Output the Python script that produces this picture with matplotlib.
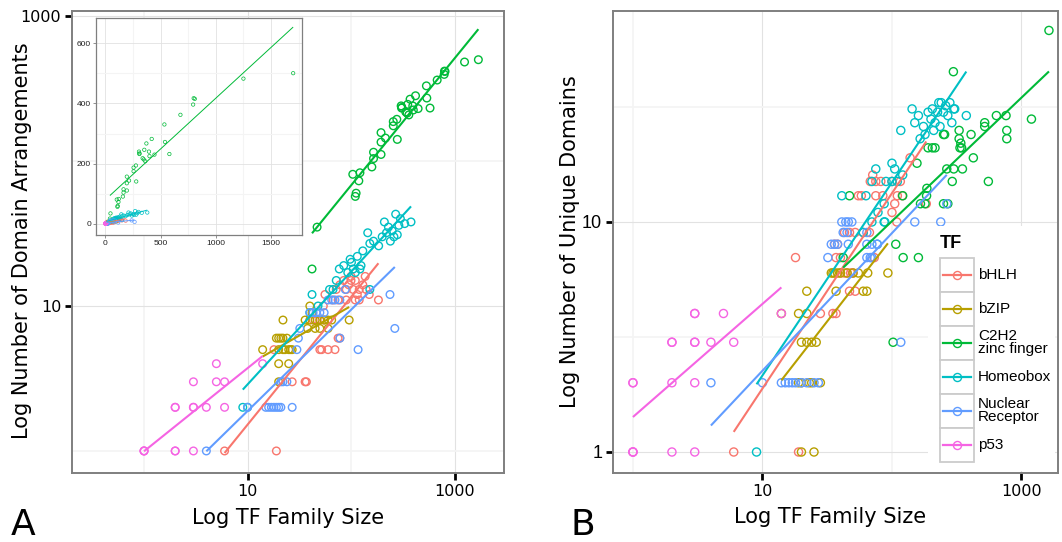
import numpy as np
import matplotlib
matplotlib.use("Agg")
import matplotlib.pyplot as plt
from matplotlib.patches import Rectangle
from matplotlib.ticker import NullFormatter

# ---- data: (family size, count) ----
families = ["bHLH", "bZIP", "C2H2\nzinc finger", "Homeobox", "Nuclear\nReceptor", "p53"]
colors = ["#F8766D", "#B79F00", "#00BA38", "#00BFC4", "#619CFF", "#F564E3"]

# panel A: number of domain arrangements
a_bhlh_x = [6, 19, 18, 27, 36, 37, 43, 47, 50, 50, 60, 70, 52, 75, 78, 55, 54, 56, 67, 75,
            90, 110, 120, 184, 72, 78, 85, 95, 100, 110, 120, 130, 137, 100, 115, 105, 90, 140, 150]
a_bhlh_y = [1, 1, 5, 3, 3, 3, 8, 8, 8, 5, 5, 5, 5, 6, 6, 8, 10, 12, 11, 11,
            11, 11, 11, 11, 13, 14, 15, 14, 16, 15, 13, 14, 16, 15, 12, 13, 13, 13, 12]
a_bzip_x = [14, 19, 20, 21, 22, 20, 22, 23, 25, 26, 27, 20, 25, 20, 22,
            36, 40, 45, 50, 55, 60, 65, 96, 40, 42, 38, 45, 50, 60, 24]
a_bzip_y = [5, 6, 6, 6, 6, 5, 5, 5, 5, 5, 5, 4, 4, 3, 8,
            8, 8, 8, 8, 8, 8, 8, 8, 10, 9, 7, 7, 7, 7, 6]
a_c2h2_x = [1700, 1250, 800, 810, 795, 680, 535, 540, 580, 420, 445, 372, 353, 305, 308,
            338, 348, 362, 277, 256, 256, 280, 195, 195, 215, 165, 165, 195, 159, 122,
            104, 119, 112, 110, 47, 42, 310, 400, 395]
a_c2h2_y = [500, 482, 417, 415, 396, 362, 330, 272, 232, 282, 230, 267, 246, 240, 232,
            218, 214, 208, 194, 187, 175, 141, 157, 135, 144, 115, 104, 111, 91, 83,
            81, 73, 60, 57, 35, 18, 234, 225, 240]
a_hbox_x = [9, 10, 40, 48, 42, 67, 62, 72, 77, 93, 101, 122, 152, 145, 152, 165, 210, 270, 380,
            230, 250, 260, 280, 240, 220, 300, 330, 290, 200, 185, 105, 115, 85, 98, 130, 110, 125]
a_hbox_y = [2, 2, 9, 10, 12, 13, 13, 15, 18, 17, 20, 18, 13, 32, 27, 28, 38, 43, 38,
            35, 33, 30, 31, 28, 32, 40, 37, 36, 30, 26, 18, 22, 19, 21, 24, 17, 19]
a_nr_x = [4, 10, 15, 16, 17, 18, 19, 20, 21, 27, 21, 22, 24, 30, 32, 31, 40, 43, 46, 50,
          55, 60, 65, 70, 78, 78, 88, 117, 238, 265]
a_nr_y = [1, 2, 2, 2, 2, 2, 2, 2, 2, 2, 3, 3, 3, 5, 7, 6, 9, 9, 9, 9,
          9, 11, 11, 11, 11, 6, 13, 5, 12, 7]
a_p53_x = [1, 1, 1, 2, 2, 3, 2, 2, 3, 3, 4, 6, 3, 5, 6, 5, 14]
a_p53_y = [1, 1, 1, 1, 1, 1, 2, 2, 2, 2, 2, 2, 3, 3, 3, 4, 4]

# panel B: number of unique domains
b_bhlh_x = [6, 19, 18, 28, 35, 37, 47, 52, 40, 43, 45, 48, 50, 37, 40, 73, 36, 38, 43, 47,
            52, 60, 67, 109, 55, 58, 75, 85, 110, 120, 68, 75, 82, 100, 116, 71, 138, 100, 105,
            184]
b_bhlh_y = [1, 1, 7, 4, 4, 4, 5, 5, 6, 6, 6, 6, 6, 7, 7, 7, 8, 8, 9, 9,
            9, 9, 9, 10, 13, 13, 13, 13, 13, 13, 15, 15, 15, 15, 15, 16, 19, 11, 12,
            12]
b_bzip_x = [20, 25, 19, 20, 23, 24, 28, 20, 22, 24, 26, 19, 22, 22, 37, 60, 64,
            35, 38, 40, 45, 50, 55, 65, 93, 34, 36, 14]
b_bzip_y = [1, 1, 2, 2, 2, 2, 2, 3, 3, 3, 3, 4, 4, 5, 5, 5, 5,
            6, 6, 6, 6, 6, 6, 6, 6, 6, 6, 4]
b_c2h2_x = [1630, 298, 1194, 640, 760, 520, 520, 770, 770, 408, 330, 340, 335, 330, 345,
            425, 265, 300, 350, 292, 555, 250, 270, 250, 255, 205, 215, 190, 156, 186,
            166, 180, 185, 107, 122, 160, 47, 121, 102, 42]
b_c2h2_y = [68, 45, 28, 29, 29, 27, 26, 25, 23, 24, 25, 22, 21, 23, 21,
            19, 17, 17, 17, 15, 15, 12, 12, 24, 24, 21, 21, 21, 18, 14,
            12, 12, 13, 8, 7, 7, 13, 13, 3, 7]
b_hbox_x = [9, 143, 205, 117, 150, 160, 175, 190, 200, 215, 225, 180, 165, 230, 240, 260,
            280, 300, 250, 270, 290, 375, 305, 210, 235, 100, 75, 105, 70, 90, 100, 110,
            121, 41, 63, 87, 78, 70, 87, 88, 60, 77]
b_hbox_y = [1, 31, 31, 25, 27, 29, 26, 30, 28, 27, 30, 24, 23, 33, 33, 32,
            33, 31, 30, 29, 27, 29, 31, 25, 26, 18, 17, 17, 15, 15, 15, 15,
            16, 13, 13, 12, 11, 10, 10, 10, 9, 8]
b_nr_x = [4, 10, 14, 15, 16, 17, 18, 20, 22, 25, 27, 117, 32, 64, 68, 70, 34, 36, 38, 46,
          64, 70, 77, 41, 44, 46, 49, 150, 42, 45, 64, 238, 265]
b_nr_y = [2, 2, 2, 2, 2, 2, 2, 2, 2, 2, 2, 3, 7, 7, 7, 7, 8, 8, 8, 8,
          8, 8, 8, 10, 10, 10, 10, 10, 9, 9, 9, 10, 12]
b_p53_x = [1, 1, 1, 2, 3, 1, 1, 2, 3, 2, 2, 3, 3, 4, 6, 3, 3, 5, 14]
b_p53_y = [1, 1, 1, 1, 1, 2, 2, 2, 2, 3, 3, 3, 3, 3, 3, 4, 4, 4, 4]

data_a = [(a_bhlh_x, a_bhlh_y), (a_bzip_x, a_bzip_y), (a_c2h2_x, a_c2h2_y),
          (a_hbox_x, a_hbox_y), (a_nr_x, a_nr_y), (a_p53_x, a_p53_y)]
data_b = [(b_bhlh_x, b_bhlh_y), (b_bzip_x, b_bzip_y), (b_c2h2_x, b_c2h2_y),
          (b_hbox_x, b_hbox_y), (b_nr_x, b_nr_y), (b_p53_x, b_p53_y)]

W, H = 1062, 542
plt.rcParams["font.family"] = ["DejaVu Sans"]
fig = plt.figure(figsize=(W / 100, H / 100), dpi=100)


def px_box(left, top, right, bottom):
    # figure rectangle from pixel edges (origin top-left)
    return [left / W, 1 - bottom / H, (right - left) / W, (bottom - top) / H]


def fit_line(ax, x, y, color, lw, log=True):
    # least squares line, like geom_smooth(method="lm", se=FALSE)
    x = np.asarray(x, float)
    y = np.asarray(y, float)
    if log:
        k, b = np.polyfit(np.log10(x), np.log10(y), 1)
        xs = np.logspace(np.log10(x.min()), np.log10(x.max()), 50)
        ys = 10 ** (b + k * np.log10(xs))
    else:
        k, b = np.polyfit(x, y, 1)
        xs = np.linspace(x.min(), x.max(), 50)
        ys = b + k * xs
    ax.plot(xs, ys, color=color, lw=lw, solid_capstyle="butt", zorder=3)


def style_log_axes(ax, xlim, ylim, xt, yt, xminor, yminor, ylab_font):
    ax.set_xscale("log")
    ax.set_yscale("log")
    ax.set_xlim(*xlim)
    ax.set_ylim(*ylim)
    ax.set_xticks(xt)
    ax.set_xticklabels([str(v) for v in xt])
    ax.set_yticks(yt)
    ax.set_yticklabels([str(v) for v in yt], family=ylab_font)
    ax.set_xticks(xminor, minor=True)
    ax.set_yticks(yminor, minor=True)
    ax.xaxis.set_minor_formatter(NullFormatter())
    ax.yaxis.set_minor_formatter(NullFormatter())
    ax.tick_params(which="major", length=4.8, width=2.0, color="black", direction="out",
                   labelsize=11.5, pad=3)
    ax.tick_params(which="minor", length=0)
    ax.grid(which="major", color="#e2e2e2", lw=0.8)
    ax.grid(which="minor", color="#f4f4f4", lw=1.3)
    ax.set_axisbelow(True)
    for sp in ax.spines.values():
        sp.set_color("#7f7f7f")
        sp.set_linewidth(1.4)


# ---- panel A ----
axA = fig.add_axes(px_box(72, 10.7, 504.5, 472.7))
for (x, y), c in zip(data_a, colors):
    axA.scatter(x, y, s=30, facecolors="none", edgecolors=c, linewidths=1.0, zorder=2)
for (x, y), c in zip(data_a, colors):
    fit_line(axA, x, y, c, 1.5)
style_log_axes(axA, (10 ** -0.696, 10 ** 3.483), (10 ** -0.150, 10 ** 3.037),
               [10, 1000], [10, 1000], [1, 100], [1, 100], "DejaVu Sans")

# inset, raw scale
axIn = fig.add_axes(px_box(96, 18, 302, 235))
for (x, y), c in zip(data_a, colors):
    axIn.scatter(x, y, s=6, facecolors="none", edgecolors=c, linewidths=0.5, zorder=2)
for (x, y), c in zip(data_a, colors):
    fit_line(axIn, x, y, c, 0.7, log=False)
axIn.set_xlim(-84, 1780)
axIn.set_ylim(-36.5, 683)
axIn.set_xticks([0, 500, 1000, 1500])
axIn.set_yticks([0, 200, 400, 600])
axIn.set_xticks([250, 750, 1250, 1750], minor=True)
axIn.set_yticks([100, 300, 500], minor=True)
for lab in axIn.get_xticklabels() + axIn.get_yticklabels():
    lab.set_family("Liberation Sans")
axIn.tick_params(which="major", length=2, width=0.6, color="#7f7f7f", labelsize=6,
                 labelcolor="#222222", pad=1.5)
axIn.tick_params(which="minor", length=0)
axIn.grid(which="major", color="#e2e2e2", lw=0.6)
axIn.grid(which="minor", color="#f4f4f4", lw=0.8)
axIn.set_axisbelow(True)
for sp in axIn.spines.values():
    sp.set_color("#7f7f7f")
    sp.set_linewidth(0.9)

# ---- panel B ----
axB = fig.add_axes(px_box(613, 11, 1058, 473))
for (x, y), c in zip(data_b, colors):
    axB.scatter(x, y, s=34, facecolors="none", edgecolors=c, linewidths=1.0, zorder=2)
for (x, y), c in zip(data_b, colors):
    fit_line(axB, x, y, c, 1.5)
style_log_axes(axB, (10 ** -0.154, 10 ** 3.282), (10 ** -0.0913, 10 ** 1.917),
               [10, 1000], [1, 10], [1, 100], [10 ** 0.5, 10 ** 1.5], "Liberation Sans")
for lab in axB.get_yticklabels():
    lab.set_fontsize(13)

# legend drawn in pixel space inside panel B
axL = fig.add_axes(px_box(928, 226, 1055, 471))
axL.set_xlim(928, 1055)
axL.set_ylim(471, 226)
axL.set_xticks([])
axL.set_yticks([])
for sp in axL.spines.values():
    sp.set_visible(False)
axL.text(940, 243, "TF", fontsize=13, fontweight="bold", family="Liberation Sans",
         va="center", ha="left")
for i, (name, c) in enumerate(zip(families, colors)):
    top = 257.7 + i * 34
    cy = top + 17
    axL.add_patch(Rectangle((940, top), 34, 34, facecolor="white", edgecolor="#cccccc", lw=1.3))
    axL.plot([943, 971], [cy, cy], color=c, lw=1.6)
    axL.plot([957], [cy], "o", mfc="none", mec=c, ms=5.8, mew=1.0)
    axL.text(978, cy, name, fontsize=11, family="Liberation Sans", va="center", ha="left",
             linespacing=0.95)

# ---- labels ----
fig.text(288 / W, 1 - 524 / H, "Log TF Family Size", fontsize=15, ha="center", va="baseline")
fig.text(830 / W, 1 - 523 / H, "Log TF Family Size", fontsize=15, ha="center", va="baseline")
fig.text(22 / W, 1 - 241 / H, "Log Number of Domain Arrangements", fontsize=15,
         rotation=90, ha="center", va="center")
fig.text(570 / W, 1 - 242 / H, "Log Number of Unique Domains", fontsize=15,
         rotation=90, ha="center", va="center")
fig.text(11 / W, 1 - 535 / H, "A", fontsize=26, ha="left", va="baseline")
fig.text(571 / W, 1 - 535 / H, "B", fontsize=26, ha="left", va="baseline")

fig.savefig("out.png", dpi=100)
